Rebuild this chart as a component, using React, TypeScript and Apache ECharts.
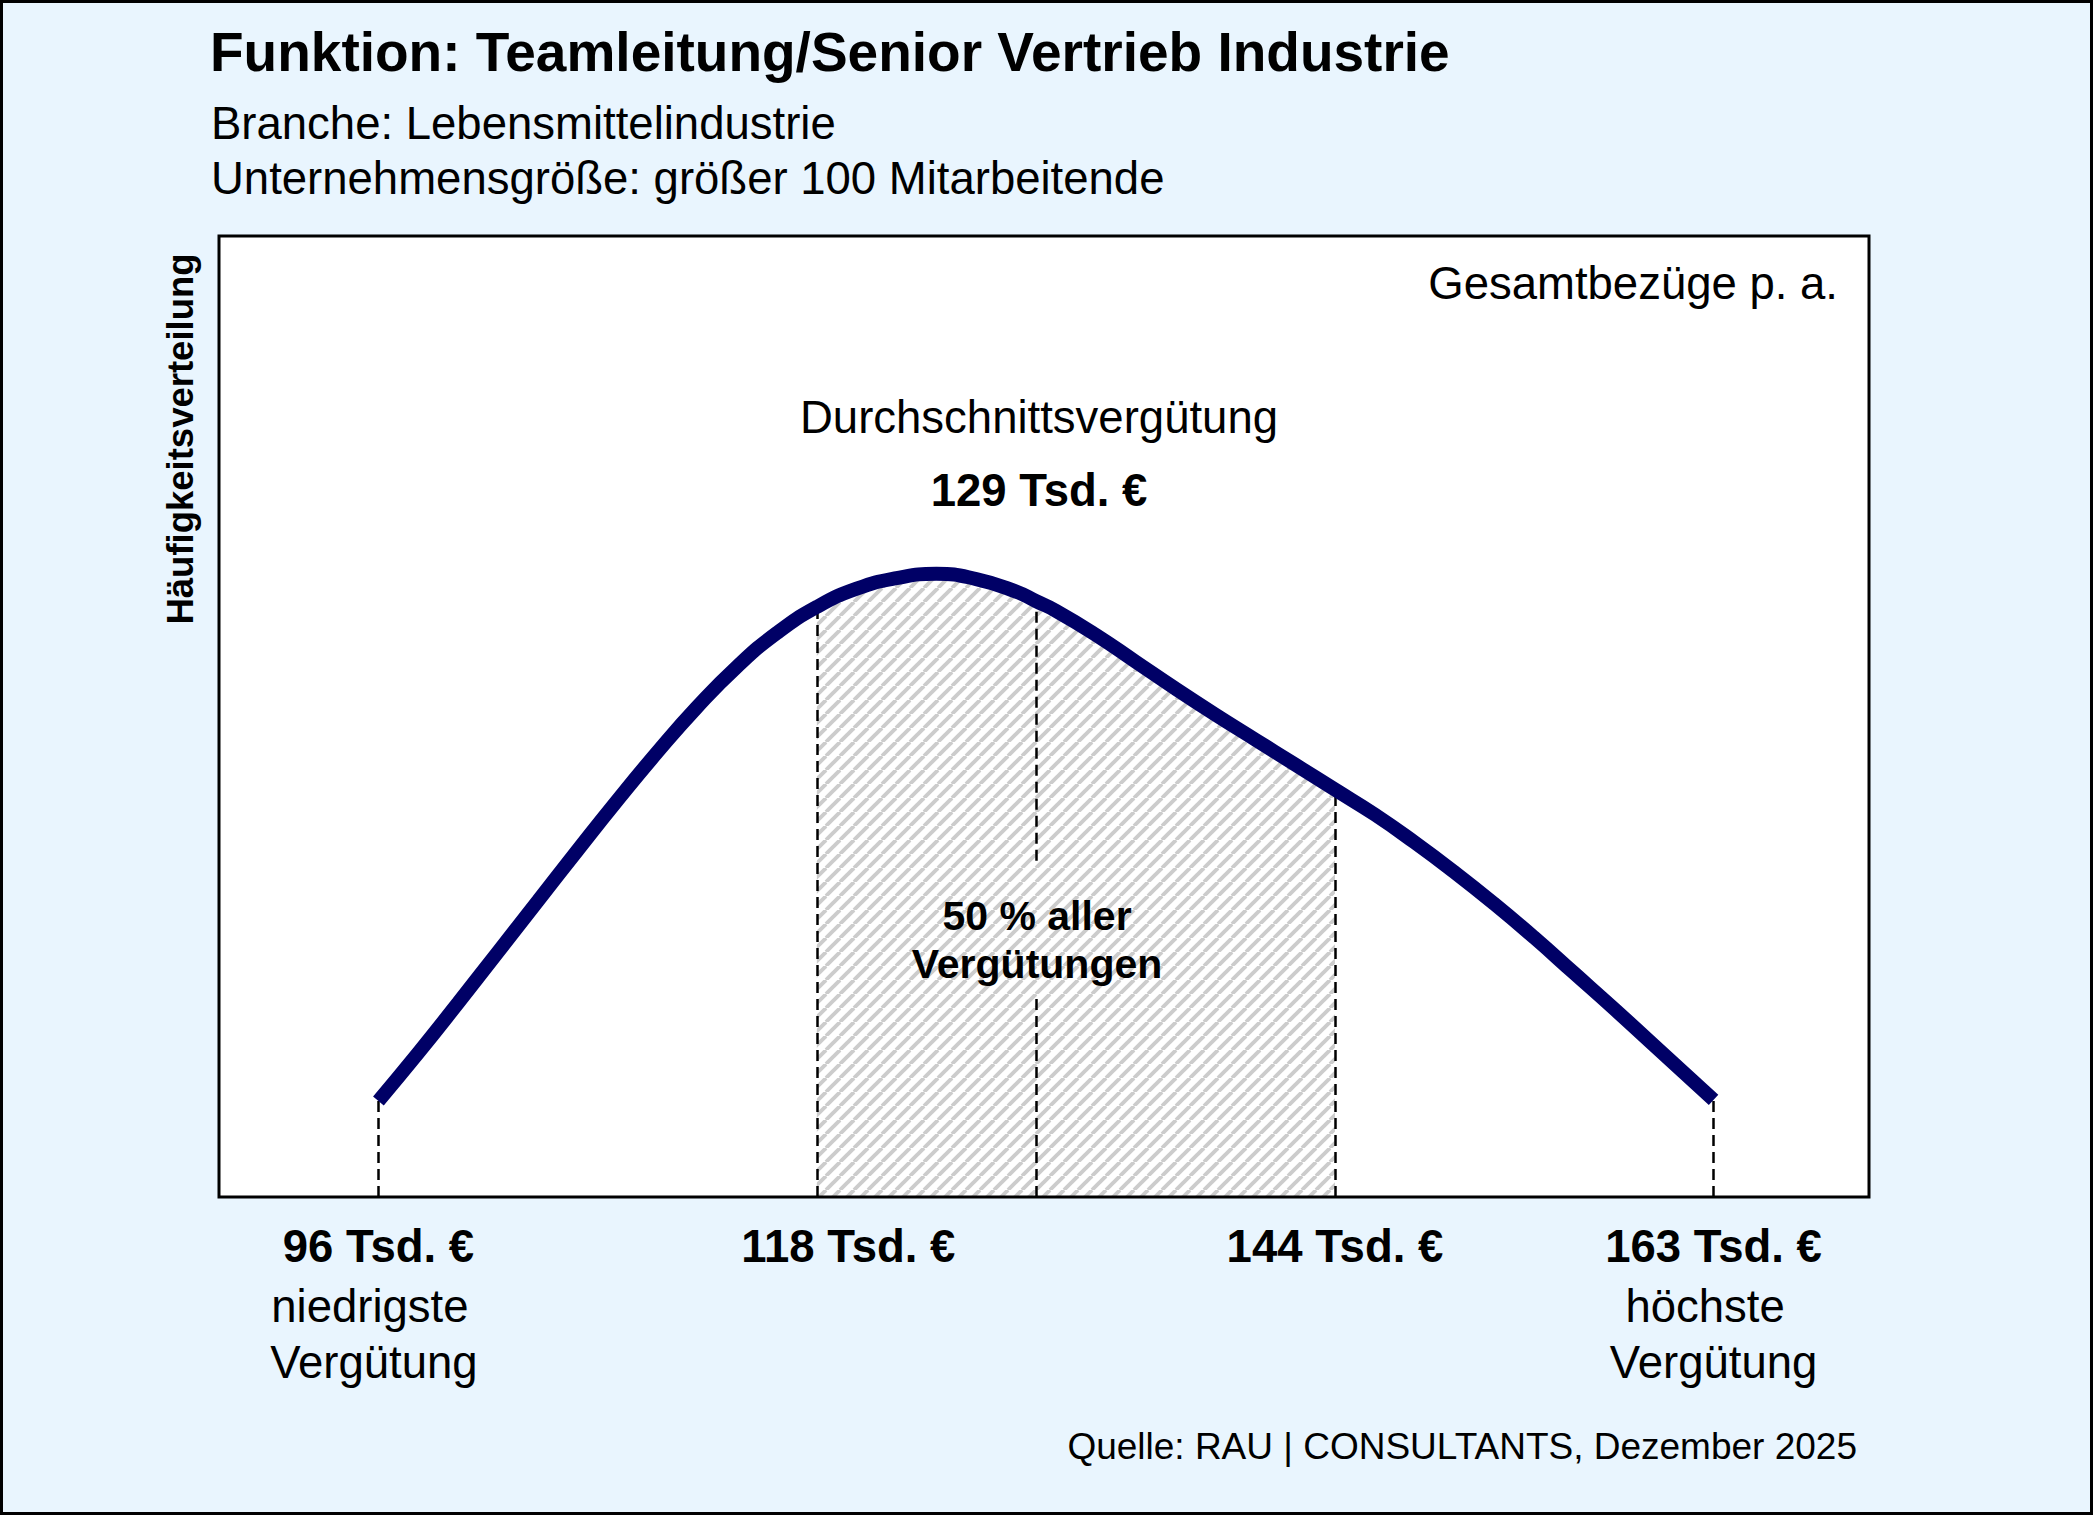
import React, { useEffect, useRef } from "react";
import * as echarts from "echarts";

// ---- data (salary in Tsd. €, relative frequency) ----
const salaries = [96, 98, 100, 102, 104, 106, 108, 110, 112, 114, 116, 118, 120, 122, 124, 126, 128, 129, 130, 132, 134, 136, 138, 140, 142, 144, 146, 148, 150, 152, 154, 156, 158, 160, 162, 163];
const density = [10.0, 15.0, 20.2, 25.5, 30.8, 36.1, 41.3, 46.3, 51.0, 55.2, 58.7, 61.4, 63.3, 64.4, 64.85, 64.3, 63.0, 62.0, 61.0, 58.5, 55.7, 52.9, 50.2, 47.6, 45.0, 42.4, 39.8, 36.9, 33.8, 30.5, 27.0, 23.3, 19.6, 15.8, 12.0, 10.1];

const lowest = 96;
const quartileLow = 118;
const average = 129;
const quartileHigh = 144;
const highest = 163;
const markerSalaries = [lowest, quartileLow, quartileHigh, highest];
const averageLabelGap = [20.8, 35.0];

const titleText = "Funktion: Teamleitung/Senior Vertrieb Industrie";
const subtitle1 = "Branche: Lebensmittelindustrie";
const subtitle2 = "Unternehmensgröße: größer 100 Mitarbeitende";
const yTitle = "Häufigkeitsverteilung";
const cornerText = "Gesamtbezüge p. a.";
const averageTitle = "Durchschnittsvergütung";
const halfText = ["50 % aller", "Vergütungen"];
const sourceText = "Quelle: RAU | CONSULTANTS, Dezember 2025";
const lowText = ["niedrigste", "Vergütung"];
const highText = ["höchste", "Vergütung"];

const FONT = "'Liberation Sans', Arial, Helvetica, sans-serif";
const HATCH = 14;

function makeHatch() {
  const size = HATCH;
  const c = document.createElement("canvas");
  c.width = size;
  c.height = size;
  const ctx = c.getContext("2d")!;
  ctx.strokeStyle = "#cccccc";
  ctx.lineWidth = 3.8;
  for (const k of [-size, 0, size]) {
    ctx.beginPath();
    ctx.moveTo(k, size);
    ctx.lineTo(k + size, 0);
    ctx.stroke();
  }
  return c;
}

function txt(text: string, x: number, y: number, size: number, bold: boolean, align: string, extra: any = {}) {
  return {
    type: "text",
    x,
    y,
    z: 50,
    silent: true,
    ...extra,
    style: {
      text,
      fill: "#000",
      fontSize: size,
      fontWeight: bold ? "bold" : "normal",
      fontFamily: FONT,
      align,
      verticalAlign: "middle",
    },
  };
}

export default function App() {
  const ref = useRef<HTMLDivElement>(null);

  useEffect(() => {
    if (!ref.current) return;
    const chart = echarts.init(ref.current, undefined, { renderer: "svg" });

    const mainData = salaries.map((s, i) => [s, density[i]]);
    const hatchData = mainData.filter((d) => d[0] >= quartileLow && d[0] <= quartileHigh);
    const valueAt = (s: number) => density[salaries.indexOf(s)];

    const markData: any[] = [];
    [lowest, quartileLow, quartileHigh, highest].forEach((s) => {
      markData.push([{ coord: [s, 0] }, { coord: [s, valueAt(s)] }]);
    });
    markData.push([{ coord: [average, 0] }, { coord: [average, averageLabelGap[0]] }]);
    markData.push([{ coord: [average, averageLabelGap[1]] }, { coord: [average, valueAt(average)] }]);

    const is = (v: number, t: number) => Math.abs(v - t) < 0.01;
    const labelFor = (v: number) => {
      if (is(v, lowest)) return `{b|${lowest} Tsd. €}\n{nl|${lowText[0]}}\n{vl|${lowText[1]}}`;
      if (is(v, highest)) return `{b|${highest} Tsd. €}\n{nl|${highText[0]}}\n{n|${highText[1]}}`;
      if (is(v, quartileLow)) return `{s|${quartileLow} Tsd. €}`;
      if (is(v, quartileHigh)) return `{b|${quartileHigh} Tsd. €}`;
      return "";
    };

    const bold = { fontSize: 45.5, fontWeight: "bold", fontFamily: FONT, color: "#000", lineHeight: 64 };
    const reg = { fontSize: 45.5, fontFamily: FONT, color: "#000", lineHeight: 56 };

    chart.setOption({
      animation: false,
      backgroundColor: "#e9f5fe",
      grid: {
        left: 219,
        right: 224,
        top: 236,
        bottom: 318,
        show: true,
        backgroundColor: "#ffffff",
        borderWidth: 0,
      },
      xAxis: {
        type: "value",
        min: 88,
        max: 170.8,
        axisLine: { show: false },
        axisTick: { show: false },
        splitLine: { show: false },
        axisLabel: {
          customValues: markerSalaries,
          formatter: labelFor,
          margin: 17,
          color: "#000",
          fontFamily: FONT,
          rich: {
            b: bold,
            s: { ...bold, padding: [0, 0, 0, 63] },
            n: reg,
            nl: { ...reg, padding: [0, 17, 0, 0] },
            vl: { ...reg, padding: [0, 9, 0, 0] },
          },
        },
      },
      yAxis: {
        type: "value",
        min: 0,
        max: 100,
        show: false,
      },
      series: [
        {
          type: "line",
          data: hatchData,
          smooth: 0.5,
          symbol: "none",
          z: 1,
          lineStyle: { width: 0, opacity: 0 },
          areaStyle: {
            color: { image: makeHatch(), repeat: "repeat", imageWidth: HATCH, imageHeight: HATCH },
            opacity: 1,
          },
          markLine: {
            z: 2,
            silent: true,
            symbol: ["none", "none"],
            label: { show: false },
            lineStyle: { color: "#000", width: 2.5, type: [11, 6] },
            data: markData,
          },
        },
        {
          type: "line",
          data: mainData,
          smooth: 0.5,
          symbol: "none",
          z: 3,
          lineStyle: { color: "#000066", width: 14 },
        },
      ],
      graphic: [
        {
          type: "rect",
          z: 100,
          silent: true,
          shape: { x: 219, y: 236, width: 1650, height: 961 },
          style: { fill: "none", stroke: "#000", lineWidth: 3 },
        },
        {
          type: "rect",
          z: 100,
          silent: true,
          shape: { x: 1.5, y: 1.5, width: 2090, height: 1512 },
          style: { fill: "none", stroke: "#000", lineWidth: 3 },
        },
        txt(titleText, 210, 52, 55, true, "left"),
        txt(subtitle1, 211, 123, 45.5, false, "left"),
        txt(subtitle2, 211, 178, 45.5, false, "left"),
        txt(cornerText, 1838, 283, 45.5, false, "right"),
        txt(averageTitle, 1039, 417, 45.5, false, "center"),
        txt(`${average} Tsd. €`, 1039, 490, 45.5, true, "center"),
        txt(halfText[0], 1037, 916, 41, true, "center"),
        txt(halfText[1], 1037, 964, 41, true, "center"),
        txt(yTitle, 180, 439, 36.5, true, "center", { rotation: Math.PI / 2 }),
        txt(sourceText, 1857, 1446, 37, false, "right"),
      ],
    });

    return () => chart.dispose();
  }, []);

  return <div ref={ref} style={{ position: "absolute", left: 0, top: 0, width: 2093, height: 1515 }} />;
}
